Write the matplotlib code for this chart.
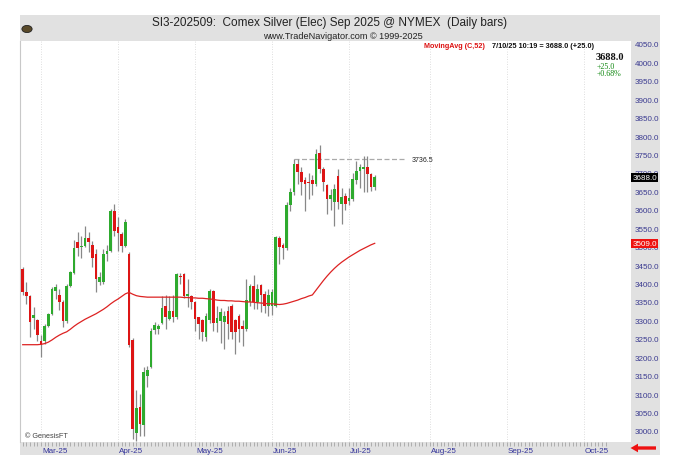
import matplotlib
matplotlib.use('Agg')
import matplotlib.pyplot as plt
import numpy as np
import pandas as pd
from matplotlib.patches import Rectangle, FancyArrow, Circle
from matplotlib.transforms import blended_transform_factory

plt.rcParams['font.family'] = ['Liberation Sans', 'DejaVu Sans']

# daily bars, Feb 21 2025 .. Jul 10 2025
opens = [3440, 3377, 3366, 3306, 3302, 3243, 3243, 3286, 3317, 3381,
         3369, 3351, 3297, 3394, 3429, 3512, 3500, 3502, 3523, 3505,
         3480, 3405, 3403, 3480, 3489, 3598, 3553, 3535, 3503, 3480,
         3248, 2995, 3065, 3015, 3150, 3173, 3274, 3277, 3293, 3340,
         3304, 3326, 3308, 3421, 3426, 3367, 3367, 3349, 3308, 3300,
         3255, 3300, 3379, 3292, 3298, 3295, 3325, 3340, 3300, 3313,
         3286, 3277, 3351, 3393, 3350, 3396, 3372, 3340, 3340, 3340,
         3523, 3505, 3496, 3613, 3648, 3724, 3702, 3680, 3675, 3680,
         3670, 3754, 3710, 3666, 3630, 3620, 3692, 3616, 3637, 3625,
         3629, 3682, 3706, 3710, 3715, 3697, 3661]
highs = [3444, 3405, 3370, 3337, 3305, 3259, 3290, 3321, 3390, 3399,
         3385, 3355, 3398, 3435, 3519, 3541, 3530, 3557, 3540, 3516,
         3494, 3432, 3494, 3505, 3602, 3616, 3580, 3540, 3575, 3486,
         3252, 3112, 3100, 3174, 3177, 3280, 3295, 3290, 3367, 3369,
         3367, 3369, 3429, 3428, 3428, 3412, 3370, 3352, 3310, 3305,
         3320, 3384, 3382, 3340, 3333, 3325, 3338, 3345, 3305, 3318,
         3300, 3412, 3398, 3423, 3400, 3399, 3380, 3385, 3385, 3530,
         3530, 3510, 3620, 3659, 3738, 3738, 3715, 3690, 3700, 3695,
         3765, 3776, 3716, 3670, 3657, 3670, 3711, 3660, 3645, 3660,
         3700, 3733, 3725, 3745, 3747, 3700, 3695]
lows = [3370, 3345, 3255, 3277, 3245, 3200, 3236, 3281, 3314, 3358,
        3327, 3281, 3292, 3390, 3425, 3476, 3470, 3498, 3486, 3444,
        3376, 3395, 3398, 3460, 3485, 3530, 3489, 3485, 3498, 3228,
        2978, 2972, 2987, 2987, 3120, 3170, 3262, 3262, 3290, 3277,
        3300, 3295, 3305, 3400, 3362, 3337, 3330, 3272, 3250, 3245,
        3245, 3292, 3270, 3268, 3238, 3222, 3250, 3250, 3209, 3240,
        3230, 3270, 3340, 3330, 3330, 3323, 3320, 3313, 3315, 3335,
        3453, 3467, 3490, 3598, 3640, 3670, 3639, 3598, 3630, 3640,
        3665, 3700, 3650, 3589, 3600, 3557, 3602, 3562, 3600, 3612,
        3625, 3670, 3660, 3649, 3649, 3650, 3655]
closes = [3376, 3366, 3295, 3315, 3259, 3232, 3286, 3317, 3384, 3390,
          3351, 3297, 3394, 3431, 3496, 3496, 3503, 3523, 3514, 3469,
          3411, 3418, 3480, 3488, 3598, 3543, 3536, 3503, 3566, 3232,
          3006, 3062, 3019, 3159, 3164, 3272, 3288, 3286, 3333, 3309,
          3326, 3308, 3426, 3417, 3367, 3371, 3349, 3304, 3290, 3268,
          3313, 3379, 3292, 3306, 3322, 3312, 3290, 3268, 3268, 3277,
          3276, 3354, 3393, 3349, 3385, 3369, 3340, 3369, 3376, 3526,
          3498, 3496, 3613, 3648, 3724, 3702, 3675, 3670, 3673, 3670,
          3752, 3711, 3675, 3629, 3640, 3657, 3620, 3634, 3616, 3632,
          3684, 3706, 3716, 3716, 3697, 3663, 3688]
ma52 = [3234, 3234, 3234, 3234, 3234, 3235, 3237, 3241, 3247, 3254,
        3260, 3265, 3269, 3276, 3284, 3291, 3297, 3303, 3308, 3313,
        3318, 3324, 3330, 3337, 3345, 3352, 3358, 3365, 3372, 3376,
        3371, 3367, 3365, 3364, 3363, 3363, 3363, 3363, 3363, 3363,
        3363, 3363, 3363, 3363, 3362, 3362, 3361, 3361, 3360, 3360,
        3359, 3358, 3357, 3355, 3354, 3354, 3353, 3353, 3352, 3352,
        3351, 3350, 3350, 3349, 3348, 3347, 3346, 3345, 3345, 3344,
        3343, 3344, 3346, 3349, 3352, 3355, 3359, 3362, 3366, 3369,
        3382, 3395, 3408, 3420, 3431, 3441, 3450, 3458, 3465, 3472,
        3478, 3484, 3490, 3495, 3500, 3505, 3509]

months = [3, 4, 5, 6, 7, 8, 9, 10]
month_names = ['Mar-25', 'Apr-25', 'May-25', 'Jun-25', 'Jul-25', 'Aug-25', 'Sep-25', 'Oct-25']
y_ticks = np.arange(3000, 4051, 50)
last_price = 3688.0
ma_last = 3509.0
hi_line = 3736.5

holidays = pd.to_datetime(['2025-04-18', '2025-05-26', '2025-07-04', '2025-09-01'])
dates = pd.bdate_range('2025-02-21', '2025-10-31')
dates = dates[~dates.isin(holidays)]

W, H = 680, 477
Y0, Y1 = 2970, 4058


def fx(x):
    return x / W


def fy(y):
    return 1 - y / H


fig = plt.figure(figsize=(6.8, 4.77), dpi=100)
fig.patch.set_facecolor('white')

panel = '#e1e1e1'
# header, right price panel, bottom date panel
fig.add_artist(Rectangle((fx(20), fy(42)), fx(640), 26 / H, transform=fig.transFigure,
                         facecolor=panel, edgecolor='none', zorder=0))
fig.add_artist(Rectangle((fx(631), fy(456)), fx(29), 414 / H, transform=fig.transFigure,
                         facecolor=panel, edgecolor='none', zorder=0))
fig.add_artist(Rectangle((fx(20), fy(456)), fx(611), 13 / H, transform=fig.transFigure,
                         facecolor=panel, edgecolor='none', zorder=0))

ax = fig.add_axes([fx(20), fy(443), fx(611), 401 / H])
ax.set_facecolor('white')
n = len(closes)
x = np.arange(n)
o = np.array(opens, float)
c = np.array(closes, float)

# month grid lines
first_idx = [int(np.argmax(dates.month == m)) for m in months]
trans = blended_transform_factory(ax.transData, ax.transAxes)
for fi, name in zip(first_idx, month_names):
    ax.axvline(fi - 0.9, color='#d4d4d4', lw=0.6, ls=(0, (1, 2)), zorder=0)
    ax.text(fi - 0.7, -0.02, name, transform=trans, ha='left', va='center',
            fontsize=5.8, color='#33339a', clip_on=False)

# candles
ax.vlines(x, lows, highs, color='#888888', lw=0.9, zorder=2)
body_col = np.where(c >= o, '#2eaa2e', '#dd1515')
heights = np.maximum(np.abs(c - o), 2.0)
ax.bar(x, heights, bottom=np.minimum(o, c), width=0.74, color=body_col,
       edgecolor='none', zorder=3)

ax.plot(x, ma52, color='#dd2222', lw=0.9, zorder=4)

# recent high line
ax.plot([74, 104.3], [hi_line, hi_line], color='#aaaaaa', lw=0.9, ls=(0, (4, 2)), zorder=1)
ax.text(106, hi_line, '3736.5', fontsize=5, va='center', ha='left', color='#222222')

ax.set_xlim(-0.74, 165.9)
ax.set_ylim(Y0, Y1)
ax.yaxis.tick_right()
ax.set_yticks(y_ticks)
ax.set_yticklabels(['%.1f' % v for v in y_ticks])
ax.tick_params(axis='y', length=0, pad=2.5, labelsize=5.8, labelcolor='#3a3a90')
ax.set_xticks([])
ax.set_xticks(np.arange(0, 160), minor=True)
ax.tick_params(axis='x', which='minor', length=3, width=0.5, color='#999999', direction='out')
ax.tick_params(axis='x', which='major', length=0, labelbottom=False)
for s in ['top', 'right', 'bottom']:
    ax.spines[s].set_visible(False)
ax.spines['left'].set_color('#c8c8c8')
ax.spines['left'].set_linewidth(0.8)

# last value boxes on the price scale (they cover part of the scale, as in the source)
ax.text(1.002, (last_price - Y0) / (Y1 - Y0), '3688.0', transform=ax.transAxes,
        fontsize=5.8, color='white', va='center', ha='left', zorder=10,
        bbox=dict(boxstyle='square,pad=0.12', facecolor='black', edgecolor='none'))
ax.text(1.002, (ma_last - Y0) / (Y1 - Y0), '3509.0', transform=ax.transAxes,
        fontsize=5.8, color='white', va='center', ha='left', zorder=10,
        bbox=dict(boxstyle='square,pad=0.12', facecolor='#ee1111', edgecolor='none'))

# header text
fig.text(fx(330), fy(23), 'SI3-202509:  Comex Silver (Elec) Sep 2025 @ NYMEX  (Daily bars)',
         ha='center', va='center', fontsize=8.5, color='#222222')
fig.text(fx(343), fy(36.5), 'www.TradeNavigator.com \u00a9 1999-2025',
         ha='center', va='center', fontsize=6.6, color='#222222')
fig.add_artist(Circle((fx(27), fy(30)), 0.0075, transform=fig.transFigure,
                      facecolor='#5a4a2a', edgecolor='#222222', lw=0.6))

fig.text(fx(424), fy(46.5), 'MovingAvg (C,52)', ha='left', va='center',
         fontsize=5.2, color='#dd1111', fontweight='bold')
fig.text(fx(492), fy(46.5), '7/10/25 10:19 = 3688.0 (+25.0)', ha='left', va='center',
         fontsize=5.3, color='#111111', fontweight='bold')
fig.text(fx(624), fy(58), '3688.0', ha='right', va='center', fontsize=7.5,
         family=['Liberation Serif', 'DejaVu Serif'], fontweight='bold', color='#111111')
fig.text(fx(597), fy(67), '+25.0', ha='left', va='center', fontsize=5.8,
         family=['Liberation Serif', 'DejaVu Serif'], color='#118811')
fig.text(fx(597), fy(74.5), '+0.68%', ha='left', va='center', fontsize=5.8,
         family=['Liberation Serif', 'DejaVu Serif'], color='#118811')

fig.text(fx(25), fy(437), '\u00a9 GenesisFT', ha='left', va='center', fontsize=5.2,
         color='#444444')

fig.add_artist(FancyArrow(fx(656), fy(449), -fx(18), 0, width=0.007, head_width=0.018,
                          head_length=0.011, transform=fig.transFigure,
                          facecolor='#ee1111', edgecolor='none'))

fig.savefig('out.png', dpi=100)
